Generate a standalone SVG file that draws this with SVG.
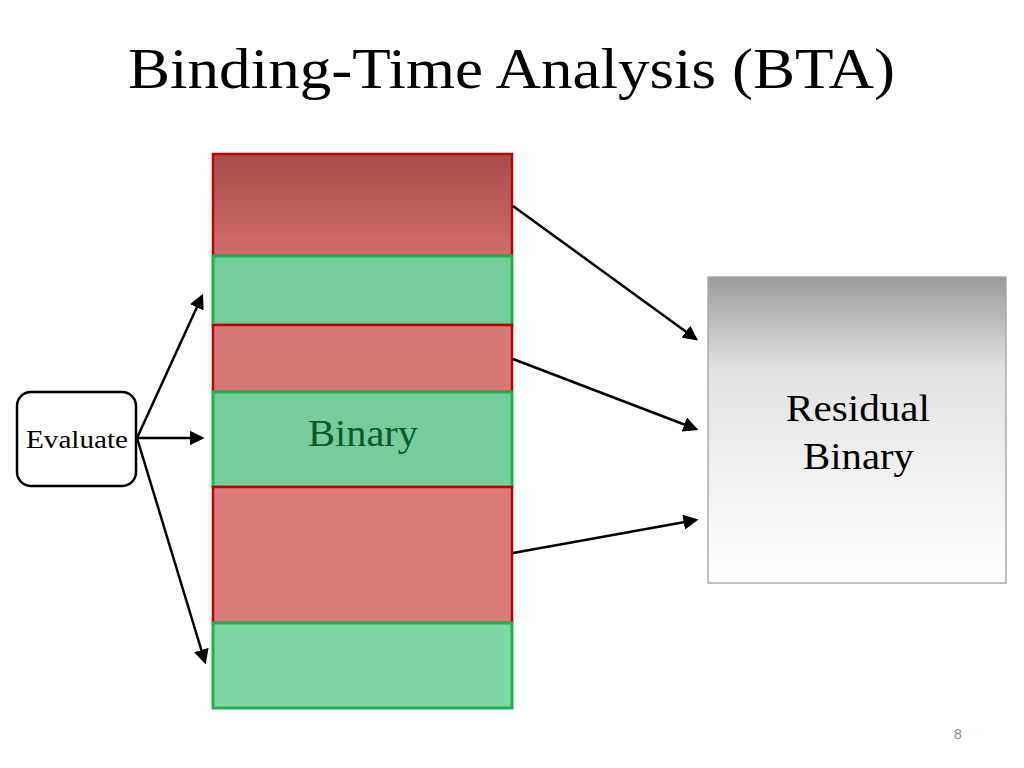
<svg xmlns="http://www.w3.org/2000/svg" width="1024" height="768" viewBox="0 0 1024 768">
<style>
text{font-family:"Liberation Serif","DejaVu Serif",serif}
.r{fill:#d77876;stroke:#c00000;stroke-width:2.5}
.g{fill:#74cd9b;stroke:#20b050;stroke-width:3}
.c{stroke:#000;stroke-width:2.5;fill:none;marker-end:url(#a)}
</style>
<defs>
<marker id="a" markerWidth="6" markerHeight="6" refX="5" refY="3" orient="auto" markerUnits="strokeWidth"><path d="M0,0L6,3L0,6z" fill="#000"/></marker>
<linearGradient id="rg" x1="0" y1="0" x2="0" y2="1"><stop offset="0" stop-color="#a84c4c"/><stop offset="1" stop-color="#d06e6c"/></linearGradient>
<linearGradient id="wg" x1="0" y1="0" x2="0" y2="1"><stop offset="0" stop-color="#9a9a9a"/><stop offset="0.3" stop-color="#e2e2e2"/><stop offset="1" stop-color="#ffffff"/></linearGradient>
</defs>
<text x="128" y="88" font-size="56" textLength="767" lengthAdjust="spacingAndGlyphs">Binding-Time Analysis (BTA)</text>
<g id="blocks">
<rect id="b1" x="213" y="154" width="299" height="102" class="r" style="fill:url(#rg)"/>
<rect id="b2" x="213" y="256" width="299" height="69" class="g"/>
<rect id="b3" x="213" y="325" width="299" height="67" class="r"/>
<g id="b4"><rect x="213" y="392" width="299" height="95" class="g"/>
<text x="308" y="446" font-size="37" fill="#0a5a2c" textLength="110" lengthAdjust="spacingAndGlyphs">Binary</text></g>
<rect id="b5" x="213" y="487" width="299" height="136" class="r" style="fill:#dc7c7a"/>
<rect id="b6" x="213" y="623" width="299" height="85" class="g" style="fill:#80d8a6"/>
</g>
<g id="evaluate"><rect x="17" y="392" width="119" height="94" rx="14" fill="#fff" stroke="#000" stroke-width="2.5"/>
<text x="26" y="448" font-size="25" textLength="102" lengthAdjust="spacingAndGlyphs">Evaluate</text></g>
<g id="residual"><rect x="708" y="277" width="298" height="306" fill="url(#wg)" stroke="#aaa" stroke-width="1.5"/>
<text x="786" y="421" font-size="37" textLength="144" lengthAdjust="spacingAndGlyphs">Residual</text>
<text x="803" y="469" font-size="37" textLength="111" lengthAdjust="spacingAndGlyphs">Binary</text></g>
<g id="connectors">
<line x1="137" y1="438" x2="202" y2="296" class="c"/>
<line x1="137" y1="438" x2="202" y2="438" class="c"/>
<line x1="137" y1="438" x2="205" y2="662" class="c"/>
<line x1="513" y1="206" x2="696" y2="339" class="c"/>
<line x1="513" y1="359" x2="696" y2="429" class="c"/>
<line x1="513" y1="553" x2="696" y2="520" class="c"/>
</g>
<text x="958" y="739" font-size="14" fill="#888" text-anchor="middle" style="font-family:'Liberation Sans',sans-serif">8</text>
</svg>
